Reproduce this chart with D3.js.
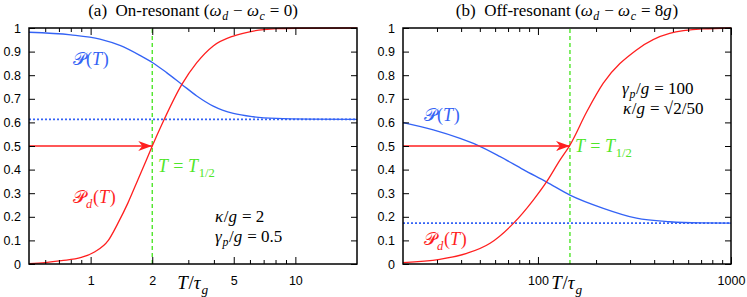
<!DOCTYPE html>
<html>
<head>
<meta charset="utf-8">
<script src="https://cdn.jsdelivr.net/npm/d3@7"></script>
<style>
  body { margin: 0; background: #fff; }
  svg { display: block; }
</style>
</head>
<body>
<div id="main"></div>
<script>
// panel (a): on-resonant
const leftPT = [0.5, 0.8, 1.11, 1.4, 1.74, 2.01, 2.35, 2.79, 3.3, 3.97, 4.98, 6.23, 8.1, 12, 20];
const leftP = [0.982, 0.971, 0.953, 0.925, 0.884, 0.853, 0.811, 0.761, 0.712, 0.669, 0.638, 0.624, 0.617, 0.614, 0.613];
const leftPdT = [0.5, 0.6, 0.72, 0.9, 1.05, 1.22, 1.36, 1.52, 1.7, 1.87, 2.0, 2.23, 2.79, 3.3, 3.97, 4.98, 6.23, 8.1, 10, 20];
const leftPd = [0.002, 0.006, 0.014, 0.028, 0.052, 0.10, 0.173, 0.258, 0.356, 0.44, 0.5, 0.592, 0.761, 0.853, 0.924, 0.966, 0.987, 0.997, 0.999, 1.0];
const leftAsym = 0.613;
const leftHalf = 2;
const leftMajor = [1, 2, 5, 10];
const leftMinor = [0.6, 0.7, 0.8, 0.9, 3, 4, 6, 7, 8, 9];

// panel (b): off-resonant
const rightPT = [20, 28.7, 39.5, 48.5, 63.7, 84, 111, 146.5, 218, 324, 481, 700, 1000];
const rightP = [0.599, 0.568, 0.532, 0.504, 0.455, 0.400, 0.347, 0.292, 0.236, 0.194, 0.179, 0.174, 0.173];
const rightPdT = [20, 31, 42.8, 56.5, 74.6, 94.6, 111, 130, 146.5, 179, 218, 324, 481, 717, 1000];
const rightPd = [0.006, 0.02, 0.045, 0.088, 0.172, 0.271, 0.349, 0.44, 0.504, 0.645, 0.766, 0.907, 0.977, 0.996, 1.0];
const rightAsym = 0.173;
const rightHalf = 146.5;
const rightMajor = [100, 1000];
const rightMinor = [30, 40, 50, 60, 70, 80, 90, 200, 300, 400, 500, 600, 700, 800, 900];

const yTicks = [0, 0.1, 0.2, 0.3, 0.4, 0.5, 0.6, 0.7, 0.8, 0.9, 1];

const BLUE = "#3463f5", RED = "#ff1f1f", GREEN = "#4fe62a";
const SERIF = '"Liberation Serif"';
const SANS = '"Liberation Sans"';

const svg = d3.select("#main").append("svg")
  .attr("width", 747).attr("height", 297);

svg.append("defs").append("marker")
  .attr("id", "arrow")
  .attr("viewBox", "0 0 14 10")
  .attr("refX", 14).attr("refY", 5)
  .attr("markerWidth", 14).attr("markerHeight", 10)
  .attr("markerUnits", "userSpaceOnUse")
  .attr("orient", "auto")
  .append("path")
  .attr("d", "M0,0 L14,5 L0,10 L4,5 Z")
  .attr("fill", RED);

// math-ish label: parts [string, italic?, sub?], each part its own <text>,
// laid out left to right by measuring
function mathText(x, y, parts, size, color, anchor) {
  const g = svg.append("g");
  let cur = 0;
  parts.forEach(p => {
    const fs = p[2] ? size * 0.7 : size;
    const t = g.append("text")
      .attr("x", cur).attr("y", p[2] ? size * 0.25 : 0)
      .style("font-family", SERIF)
      .style("font-size", fs + "px")
      .style("font-style", p[1] ? "italic" : "normal")
      .style("white-space", "pre")
      .attr("fill", color)
      .text(p[0]);
    cur += t.node().getComputedTextLength() + (p[1] ? size * 0.04 : 0);
  });
  const dx = anchor === "middle" ? -cur / 2 : 0;
  g.attr("transform", `translate(${x + dx},${y})`);
  return g;
}

function drawPanel(cfg) {
  const g = svg.append("g");
  const x = d3.scaleLog().domain(cfg.domain).range([cfg.left, cfg.right]);
  const y = d3.scaleLinear().domain([0, 1]).range([264, 28]);

  const line = d3.line()
    .x(d => x(d[0])).y(d => y(d[1]))
    .curve(d3.curveMonotoneX);

  // asymptote
  g.append("line")
    .attr("x1", x(cfg.domain[0])).attr("x2", x(cfg.domain[1]))
    .attr("y1", y(cfg.asym)).attr("y2", y(cfg.asym))
    .attr("stroke", BLUE).attr("stroke-width", 1.7)
    .attr("stroke-dasharray", "2,2");

  // T_1/2 marker
  g.append("line")
    .attr("x1", x(cfg.half)).attr("x2", x(cfg.half))
    .attr("y1", y(0)).attr("y2", y(1))
    .attr("stroke", GREEN).attr("stroke-width", 1.4)
    .attr("stroke-dasharray", "4,3");

  g.append("path")
    .datum(d3.zip(cfg.pT, cfg.p))
    .attr("d", line)
    .attr("fill", "none").attr("stroke", BLUE).attr("stroke-width", 1.3);

  g.append("path")
    .datum(d3.zip(cfg.pdT, cfg.pd))
    .attr("d", line)
    .attr("fill", "none").attr("stroke", RED).attr("stroke-width", 1.3);

  g.append("line")
    .attr("x1", x(cfg.domain[0])).attr("x2", x(cfg.half))
    .attr("y1", y(0.5)).attr("y2", y(0.5))
    .attr("stroke", RED).attr("stroke-width", 1.5)
    .attr("marker-end", "url(#arrow)");

  // axes, gnuplot style: ticks inward on every side
  const axX = d3.axisBottom(x).tickValues(cfg.major).tickFormat(d3.format("d"))
    .tickSize(-7).tickSizeOuter(0).tickPadding(12);
  const gx = g.append("g").attr("transform", `translate(0,${y(0)})`).call(axX);
  g.append("g").attr("transform", `translate(0,${y(1)})`)
    .call(d3.axisTop(x).tickValues(cfg.major).tickSize(-7).tickSizeOuter(0).tickFormat(""));
  g.append("g").attr("transform", `translate(0,${y(0)})`)
    .call(d3.axisBottom(x).tickValues(cfg.minor).tickSize(-4).tickSizeOuter(0).tickFormat(""));
  g.append("g").attr("transform", `translate(0,${y(1)})`)
    .call(d3.axisTop(x).tickValues(cfg.minor).tickSize(-4).tickSizeOuter(0).tickFormat(""));

  const gy = g.append("g").attr("transform", `translate(${cfg.left},0)`)
    .call(d3.axisLeft(y).tickValues(yTicks).tickFormat(d3.format("~g"))
      .tickSize(-6).tickSizeOuter(0).tickPadding(8));
  g.append("g").attr("transform", `translate(${cfg.right},0)`)
    .call(d3.axisRight(y).tickValues(yTicks).tickFormat("").tickSize(-6).tickSizeOuter(0));

  g.selectAll(".domain").remove();
  g.selectAll(".tick line").attr("stroke", "#000").attr("stroke-width", 1);
  [gx, gy].forEach(a => {
    a.attr("font-family", null).attr("font-size", null);
    a.selectAll("text")
      .style("font-family", SANS).style("font-size", "12.5px").attr("fill", "#000");
  });

  g.append("rect")
    .attr("x", cfg.left).attr("y", y(1))
    .attr("width", cfg.right - cfg.left).attr("height", y(0) - y(1))
    .attr("fill", "none").attr("stroke", "#000").attr("stroke-width", 1.5);

  // labels
  const cx = (cfg.left + cfg.right) / 2;
  mathText(cx, 16, cfg.title, 17, "#000", "middle");
  mathText(cx, 289, [["T", true], ["/", false], ["τ", true], ["g", true, true]], 19, "#000", "middle");

  cfg.labels.forEach(l => mathText(l.x, l.y, l.parts, l.size || 18, l.color, "start"));
}

const P = [["𝒫", false], ["(", false], ["T", true], [")", false]];
const Pd = [["𝒫", false], ["d", true, true], ["(", false], ["T", true], [")", false]];
const Thalf = [["T", true], [" = ", false], ["T", true], ["1/2", false, true]];

drawPanel({
  left: 29, right: 357, domain: [0.5, 20],
  pT: leftPT, p: leftP, pdT: leftPdT, pd: leftPd,
  asym: leftAsym, half: leftHalf, major: leftMajor, minor: leftMinor,
  title: [["(a)  On-resonant (", false], ["ω", true], ["d", true, true], [" − ", false], ["ω", true], ["c", true, true], [" = 0)", false]],
  labels: [
    {x: 73, y: 65, parts: P, color: BLUE},
    {x: 73, y: 203, parts: Pd, color: RED},
    {x: 158, y: 172, parts: Thalf, color: GREEN},
    {x: 215, y: 222, parts: [["κ", true], ["/", false], ["g", true], [" = 2", false]], color: "#000", size: 17},
    {x: 215, y: 242, parts: [["γ", true], ["p", true, true], ["/", false], ["g", true], [" = 0.5", false]], color: "#000", size: 17}
  ]
});

drawPanel({
  left: 403, right: 731, domain: [20, 1000],
  pT: rightPT, p: rightP, pdT: rightPdT, pd: rightPd,
  asym: rightAsym, half: rightHalf, major: rightMajor, minor: rightMinor,
  title: [["(b)  Off-resonant (", false], ["ω", true], ["d", true, true], [" − ", false], ["ω", true], ["c", true, true], [" = 8", false], ["g", true], [")", false]],
  labels: [
    {x: 424, y: 121, parts: P, color: BLUE},
    {x: 424, y: 245, parts: Pd, color: RED},
    {x: 575, y: 152, parts: Thalf, color: GREEN},
    {x: 622, y: 94, parts: [["γ", true], ["p", true, true], ["/", false], ["g", true], [" = 100", false]], color: "#000", size: 17},
    {x: 623, y: 114, parts: [["κ", true], ["/", false], ["g", true], [" = √2/50", false]], color: "#000", size: 17}
  ]
});
</script>
</body>
</html>
